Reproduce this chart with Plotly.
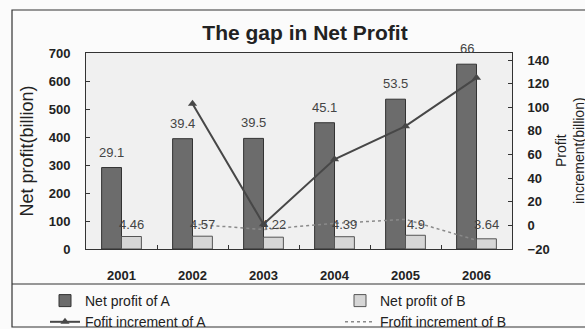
import plotly.graph_objects as go

years = ["2001", "2002", "2003", "2004", "2005", "2006"]
profit_a = [291, 394, 395, 451, 535, 660]
profit_b = [44.6, 45.7, 42.2, 43.9, 49.0, 36.4]
label_a = ["29.1", "39.4", "39.5", "45.1", "53.5", "66"]
label_b = ["4.46", "4.57", "4.22", "4.39", "4.9", "3.64"]
inc_years = ["2002", "2003", "2004", "2005", "2006"]
inc_a = [103, 1, 56, 84, 125]
inc_b = [1.1, -3.5, 1.7, 5.1, -12.6]

FONT = "Liberation Sans, Arial, sans-serif"
W, H = 585, 329
ML, MR, MT, MB = 86, 73, 53, 80
PW, PH = W - ML - MR, H - MT - MB
B_LABEL_LEVEL = 88  # height (left-axis units) at which B labels sit

def px(x):
    return (x - ML) / PW

def py(y):
    return (H - MB - y) / PH

fig = go.Figure()
fig.add_trace(go.Bar(
    x=years, y=profit_a, name="Net profit of A", legend="legend",
    marker=dict(color="#6c6c6c", line=dict(color="#333333", width=1)),
))
fig.add_trace(go.Bar(
    x=years, y=profit_b, name="Net profit of B", legend="legend2",
    marker=dict(color="#d6d6d6", line=dict(color="#555555", width=1)),
))
fig.add_trace(go.Scatter(
    x=inc_years, y=inc_a, name="Fofit increment of A", yaxis="y2", legend="legend",
    mode="lines+markers", line=dict(color="#474747", width=2),
    marker=dict(symbol="triangle-up", size=8, color="#474747"),
))
fig.add_trace(go.Scatter(
    x=inc_years, y=inc_b, name="Frofit increment of B", yaxis="y2", legend="legend2",
    mode="lines", line=dict(color="#8a8a8a", width=1.5, dash="dot"),
))

for i, (va, la) in enumerate(zip(profit_a, label_a)):
    fig.add_annotation(x=i, y=va, xref="x", yref="y", text=la, showarrow=False,
                       xshift=-10, yshift=6, yanchor="bottom",
                       font=dict(family=FONT, size=13, color="#444444"))
for i, lb in enumerate(label_b):
    fig.add_annotation(x=i, y=B_LABEL_LEVEL, xref="x", yref="y", text=lb, showarrow=False,
                       xshift=10, font=dict(family=FONT, size=13, color="#444444"))

# right axis title
fig.add_annotation(x=px(570), y=0.5, xref="paper", yref="paper",
                   text="Profit<br>increment(billion)", showarrow=False, textangle=-90,
                   xanchor="center", yanchor="middle",
                   font=dict(family=FONT, size=14, color="#222222"))

# outer frame and legend divider
fig.add_shape(type="rect", xref="paper", yref="paper",
              x0=px(12), x1=px(590), y0=py(327), y1=py(10),
              line=dict(color="#333333", width=1.2), layer="below")
fig.add_shape(type="line", xref="paper", yref="paper",
              x0=px(12), x1=px(590), y0=py(284), y1=py(284),
              line=dict(color="#333333", width=1.2))

leg_common = dict(orientation="v", yanchor="top", y=py(285),
                  font=dict(family=FONT, size=14, color="#222222"),
                  bgcolor="rgba(0,0,0,0)", traceorder="normal", tracegroupgap=0)

tickf = dict(family=FONT, size=13, weight="bold", color="#222222")

fig.update_layout(
    width=W, height=H,
    margin=dict(l=ML, r=MR, t=MT, b=MB, autoexpand=False),
    paper_bgcolor="#fbfbfb", plot_bgcolor="#f0f0f0",
    font=dict(family=FONT, color="#222222"),
    title=dict(text="The gap in Net Profit", x=305 / W, xanchor="center",
               y=1 - 33 / H, yanchor="middle",
               font=dict(family=FONT, size=21, weight="bold", color="#222222")),
    barmode="group", bargap=0.44, bargroupgap=0,
    showlegend=True,
    legend=dict(x=px(45), xanchor="left", **leg_common),
    legend2=dict(x=px(340), xanchor="left", **leg_common),
    xaxis=dict(type="category", range=[-0.5, 5.5], showline=True,
               linecolor="#333333", mirror=True,
               ticks="inside", tickson="boundaries", ticklen=4, tickcolor="#333333",
               tickfont=tickf, ticklabelstandoff=14, showgrid=False),
    yaxis=dict(range=[0, 700], dtick=100, showline=True, linecolor="#333333",
               ticks="inside", ticklen=4, tickcolor="#333333", showgrid=False,
               zeroline=False, tickfont=tickf, ticklabelstandoff=12,
               title=dict(text="Net profit(billion)", standoff=10,
                          font=dict(family=FONT, size=18, color="#222222"))),
    yaxis2=dict(range=[-20, 146], dtick=20, overlaying="y", side="right",
                showline=True, linecolor="#333333", ticks="inside", ticklen=4,
                tickcolor="#333333", showgrid=False, zeroline=False,
                tickfont=tickf, ticklabelstandoff=12),
)

fig.write_html("out.html")
